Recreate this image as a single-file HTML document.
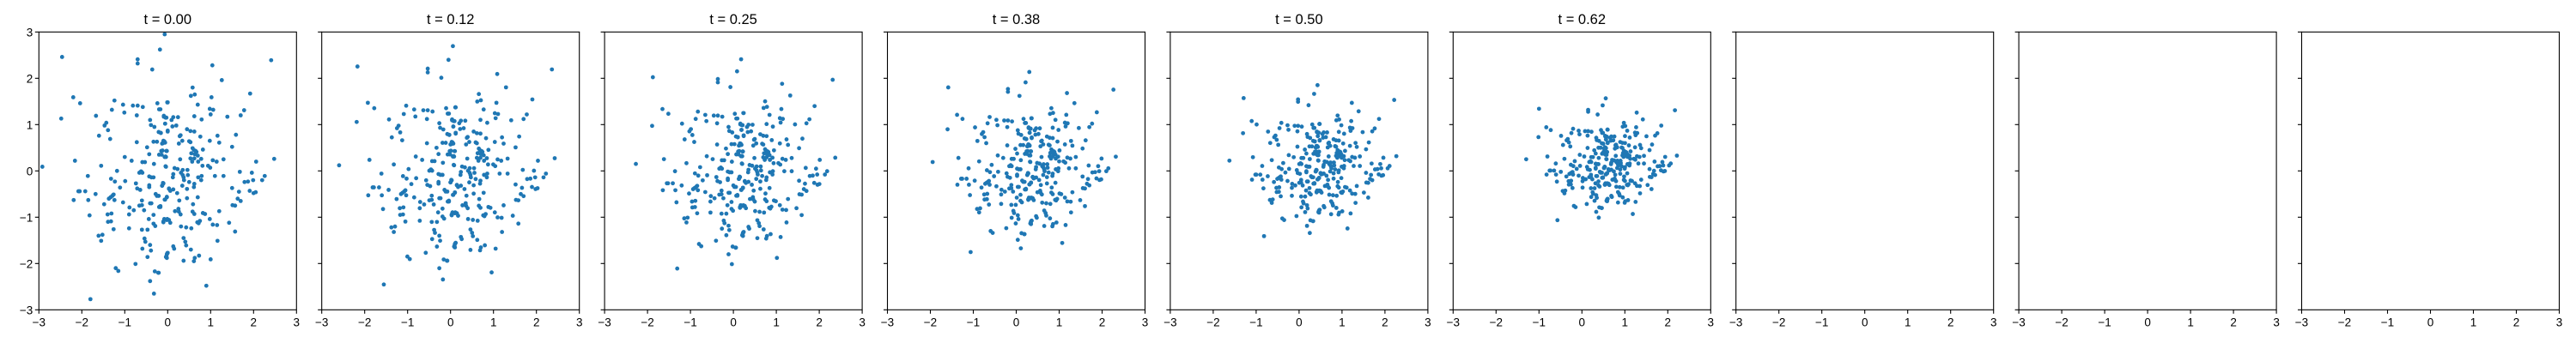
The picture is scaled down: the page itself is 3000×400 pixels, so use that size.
<!DOCTYPE html>
<html><head><meta charset="utf-8"><style>
html,body{margin:0;padding:0;background:#fff;}
svg{display:block;font-family:"Liberation Sans","DejaVu Sans",sans-serif;}
</style></head><body>
<svg id="fig" width="3000" height="400"></svg>
<script>
// base point cloud read from t = 0.00 panel
const baseX = [-2.92,-2.46,-2.48,-2.2,-2.04,-2.16,-2.19,-2.08,-2.05,-1.92,-1.86,-1.85,-1.82,-1.8,-1.68,-1.67,-1.6,-1.61,-1.52,-1.55,-1.55,-1.48,-1.47,-1.43,-1.39,-1.34,-1.4,-1.31,-1.39,-1.32,-1.37,-1.33,-1.29,-1.3,-1.32,-1.24,-1.26,-1.23,-1.26,-1.24,-1.18,-1.21,-1.15,-1.11,-1.04,-1.04,-1.01,-1.0,-0.99,-0.89,-0.9,-0.9,-0.84,-0.79,-0.81,-0.75,-0.74,-0.72,-0.72,-0.7,-0.58,-0.7,-0.7,-0.71,-0.66,-0.62,-0.64,-0.66,-0.6,-0.6,-0.59,-0.53,-0.59,-0.6,-0.59,-0.55,-0.54,-0.52,-0.48,-0.47,-0.47,-0.44,-0.43,-0.41,-0.43,-0.38,-0.43,-0.43,-0.41,-0.38,-0.41,-0.39,-0.41,-0.39,-0.36,-0.33,-0.25,-0.33,-0.33,-0.32,-0.33,-0.3,-0.22,-0.32,-0.31,-0.29,-0.28,-0.25,-0.24,-0.2,-0.17,-0.2,-0.21,-0.16,-0.2,-0.14,-0.18,-0.13,-0.1,-0.11,-0.08,-0.12,-0.09,-0.05,-0.06,-0.07,-0.04,-0.1,-0.08,-0.02,-0.07,-0.06,-0.04,-0.03,-0.02,-0.01,-0.04,-0.02,-0.0,-0.0,0.03,0.03,
1.04,2.41,1.26,0.58,0.54,0.63,1.02,1.92,0.0,0.7,0.98,1.06,1.78,-0.17,1.0,1.7,1.39,-0.09,-0.03,0.62,0.79,0.09,0.13,0.24,-0.06,0.11,0.2,0.45,0.53,0.62,0.0,-0.16,0.3,0.28,0.76,1.16,1.59,-0.1,-0.06,-0.13,0.26,0.34,0.5,0.53,0.98,1.2,1.5,0.58,0.61,0.65,0.67,0.82,-0.15,-0.02,0.55,0.63,0.7,-0.05,0.29,0.53,0.57,0.62,0.78,0.71,1.05,1.14,1.3,2.06,2.48,0.81,-0.05,0.94,0.99,0.16,0.23,0.35,0.31,0.35,0.46,0.13,0.12,0.47,0.37,1.1,1.3,1.68,1.96,2.26,2.2,0.71,0.79,0.78,0.38,1.79,1.87,1.99,-0.11,-0.13,0.5,0.62,0.61,0.34,0.45,1.5,1.66,0.03,0.13,0.06,0.22,1.91,2.0,2.05,-0.21,-0.07,-0.02,0.27,0.45,0.7,1.63,1.7,0.59,1.51,1.57,-0.17,0.25,0.17,0.3,0.26,0.58,0.62,0.82,0.87,1.2,-0.1,-0.01,0.06,0.69,0.75,0.72,0.98,1.05,1.15,1.43,0.31,0.43,0.55,1.57,0.37,0.41,0.43,1.16,0.13,0.15,0.54,-0.01,-0.03,-0.02,0.73,0.63,0.61,0.37,1.0,-0.21,0.9];
const baseY = [0.09,2.46,1.13,1.59,1.46,0.22,-0.63,-0.44,-0.44,-0.44,-0.11,-0.63,-0.96,-2.77,-0.5,1.19,0.76,-1.4,-1.38,-1.51,0.11,-0.72,0.98,1.04,0.88,0.69,-0.94,-0.92,-1.1,-1.09,-0.6,-0.57,-0.54,1.32,-0.17,1.52,-0.51,-0.23,-1.26,-0.63,0.0,-2.1,-2.16,-0.36,1.43,-0.68,1.26,0.3,-0.22,-0.79,-0.94,-1.24,0.22,-0.85,1.41,-2.01,-0.27,1.2,0.62,1.41,1.38,2.41,2.32,-0.38,-0.04,-0.01,-0.41,-0.75,-0.74,-0.64,0.19,0.19,-0.04,-1.27,-1.68,-0.85,-1.46,-1.53,0.51,-1.27,-1.86,-1.04,0.36,1.1,-0.12,-0.14,-0.31,-0.35,-0.7,-0.7,-1.6,-1.72,-2.38,0.99,2.19,0.63,0.63,-0.95,-0.14,0.15,-1.14,-2.17,-2.2,-2.65,0.95,-1.19,-0.5,-0.54,1.46,-0.78,-0.76,1.33,0.84,0.82,0.35,0.35,2.62,-0.32,-0.27,0.6,0.64,0.44,1.19,1.15,1.02,0.3,0.3,-1.11,-1.04,-1.06,2.95,-0.62,0.09,0.43,-0.56,1.48,-1.86,-1.8,-1.77,0.85,-1.06,-0.38,
2.28,2.39,1.96,1.8,1.62,1.65,1.59,1.67,1.48,1.43,1.34,1.32,1.31,1.33,1.22,1.2,1.17,1.17,1.15,1.18,1.11,1.1,1.16,1.16,1.02,0.96,0.98,0.9,0.86,0.85,0.87,0.82,0.77,0.75,0.74,0.76,0.78,0.65,0.61,0.59,0.59,0.65,0.64,0.62,0.65,0.61,0.52,0.49,0.45,0.43,0.41,0.46,0.43,0.43,0.38,0.36,0.33,0.31,0.25,0.27,0.2,0.27,0.26,0.2,0.23,0.2,0.25,0.2,0.26,0.11,0.1,0.11,0.07,0.06,0.04,0.02,-0.04,-0.09,0.02,-0.07,-0.14,-0.09,-0.14,-0.11,-0.11,-0.02,-0.04,-0.11,-0.2,-0.14,-0.11,-0.2,-0.2,-0.24,-0.23,-0.2,-0.26,-0.32,-0.24,-0.28,-0.35,-0.32,-0.39,-0.37,-0.45,-0.39,-0.4,-0.43,-0.48,-0.43,-0.48,-0.46,-0.54,-0.62,-0.57,-0.64,-0.59,-0.57,-0.6,-0.65,-0.72,-0.74,-0.75,-0.78,-0.82,-0.87,-0.94,-0.88,-0.88,-0.93,-0.91,-0.93,-0.87,-1.09,-1.04,-1.12,-1.11,-1.08,-1.13,-1.04,-1.16,-1.17,-1.12,-1.2,-1.22,-1.24,-1.31,-1.45,-1.53,-1.61,-1.51,-1.63,-1.68,-1.7,-1.78,-1.84,-1.88,-1.83,-1.88,-1.95,-1.94,-1.91,-2.2,-2.48];
// per-panel state (estimated from each panel)
const titles = ["t = 0.00","t = 0.12","t = 0.25","t = 0.38","t = 0.50","t = 0.62","","","",""];
const scaleX = [1, 0.93, 0.86, 0.79, 0.72, 0.65];
const scaleY = [1, 0.9, 0.79, 0.68, 0.57, 0.46];
const shiftX = [0, 0.12, 0.24, 0.36, 0.48, 0.6];
const shiftY = [0, 0.04, 0.08, 0.13, 0.17, 0.21];
const ticks = [-3,-2,-1,0,1,2,3];
const tickLabels = ["\u22123","\u22122","\u22121","0","1","2","3"];

const NS = "http://www.w3.org/2000/svg";
const svg = document.getElementById("fig");
function mk(tag, attrs, parent){const e=document.createElementNS(NS,tag);for(const k in attrs)e.setAttribute(k,attrs[k]);(parent||svg).appendChild(e);return e;}
const W=300, H=324, TOP=37.3, L0=45.3, STEP=329.4;
for(let p=0;p<9;p++){
  const left=L0+p*STEP;
  const g=mk("g",{});
  
  
  const xs=v=>left+(v+3)/6*W;
  const ys=v=>TOP+(3-v)/6*H;
  if(p<scaleX.length){
    const pts=mk("g",{fill:"#1f77b4"},g);
    
    
    for(let i=0;i<baseX.length;i++){
      const x=baseX[i]*scaleX[p]+shiftX[p], y=baseY[i]*scaleY[p]+shiftY[p];
      const c=mk("circle",{cx:xs(x).toFixed(2),cy:ys(y).toFixed(2),r:2.4},pts);
      
      
    }
    const t=mk("text",{x:left+W/2,y:28,"text-anchor":"middle","font-size":16.5,fill:"#000"},g);
    t.textContent=titles[p];
    
    
  }
  const fr=mk("rect",{x:left,y:TOP,width:W,height:H,fill:"none",stroke:"#000","stroke-width":1.1},g);
  
  
  ticks.forEach((v,i)=>{
    mk("line",{x1:xs(v),x2:xs(v),y1:TOP+H,y2:TOP+H+4.5,stroke:"#000","stroke-width":1.1},g);
    const tx=mk("text",{x:xs(v),y:TOP+H+19,"text-anchor":"middle","font-size":13.5,fill:"#000"},g);
    tx.textContent=tickLabels[i];
    
    
    mk("line",{x1:left-4.5,x2:left,y1:ys(v),y2:ys(v),stroke:"#000","stroke-width":1.1},g);
    if(p===0){
      const ty=mk("text",{x:left-7,y:ys(v)+5,"text-anchor":"end","font-size":13.5,fill:"#000"},g);
      ty.textContent=tickLabels[i];
      
      
    }
  });
}
</script>
</body></html>
